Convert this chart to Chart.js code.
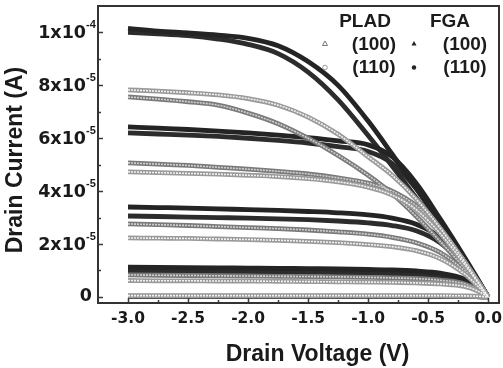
<!DOCTYPE html>
<html>
<head>
<meta charset="utf-8">
<script src="https://cdn.jsdelivr.net/npm/chart.js@4.4.1/dist/chart.umd.min.js"></script>
<style>
  html, body { margin: 0; padding: 0; background: #fff; }
  #wrap { width: 503px; height: 368px; }
</style>
</head>
<body>
<div id="wrap"><canvas id="ivChart" width="503" height="368"></canvas></div>
<script>
// Drain voltage (V), shared by every curve
const drainVoltage = [-3.0, -2.75, -2.5, -2.25, -2.0, -1.75, -1.5, -1.25, -1.0, -0.8, -0.6, -0.4, -0.2, -0.1, 0.0];

// Drain current in units of 1e-5 A, one row per gate step (highest first)
const plad100 = [
    [7.56, 7.48, 7.38, 7.25, 6.95, 6.55, 6.0, 5.35, 4.6, 3.9, 3.05, 2.1, 1.1, 0.55, 0],
    [5.07, 5.02, 4.97, 4.9, 4.83, 4.75, 4.65, 4.5, 4.3, 4.0, 3.45, 2.55, 1.35, 0.68, 0],
    [2.76, 2.73, 2.7, 2.66, 2.62, 2.58, 2.53, 2.46, 2.37, 2.25, 2.05, 1.68, 1.0, 0.53, 0],
    [0.83, 0.82, 0.81, 0.8, 0.79, 0.78, 0.77, 0.76, 0.74, 0.72, 0.69, 0.63, 0.5, 0.3, 0],
    [0.03, 0.03, 0.03, 0.03, 0.03, 0.03, 0.03, 0.03, 0.03, 0.03, 0.03, 0.03, 0.02, 0.01, 0]
];
const plad110 = [
    [7.83, 7.78, 7.72, 7.64, 7.5, 7.25, 6.8, 6.15, 5.3, 4.6, 3.7, 2.6, 1.35, 0.68, 0],
    [4.73, 4.7, 4.67, 4.64, 4.6, 4.55, 4.47, 4.35, 4.15, 3.85, 3.3, 2.4, 1.25, 0.63, 0],
    [2.23, 2.22, 2.21, 2.19, 2.17, 2.14, 2.1, 2.05, 1.98, 1.9, 1.75, 1.45, 0.88, 0.47, 0],
    [0.62, 0.61, 0.61, 0.6, 0.6, 0.59, 0.58, 0.57, 0.56, 0.55, 0.53, 0.49, 0.4, 0.25, 0],
    [0.05, 0.05, 0.05, 0.05, 0.05, 0.05, 0.05, 0.05, 0.05, 0.05, 0.05, 0.05, 0.04, 0.03, 0]
];
const fga100 = [
    [10.15, 10.05, 9.98, 9.9, 9.78, 9.5, 8.9, 8.0, 6.65, 5.4, 4.1, 2.8, 1.42, 0.71, 0],
    [6.43, 6.38, 6.33, 6.27, 6.2, 6.12, 6.02, 5.9, 5.75, 5.3, 4.3, 2.95, 1.52, 0.77, 0],
    [3.4, 3.38, 3.36, 3.33, 3.3, 3.27, 3.23, 3.18, 3.1, 2.98, 2.75, 2.25, 1.3, 0.68, 0],
    [1.13, 1.12, 1.11, 1.1, 1.09, 1.08, 1.07, 1.06, 1.04, 1.02, 0.98, 0.9, 0.68, 0.4, 0],
    [0.02, 0.02, 0.02, 0.02, 0.02, 0.02, 0.02, 0.02, 0.02, 0.02, 0.02, 0.02, 0.02, 0.01, 0]
];
const fga110 = [
    [10.0, 9.95, 9.88, 9.75, 9.55, 9.2, 8.5, 7.45, 6.1, 4.95, 3.75, 2.55, 1.3, 0.65, 0],
    [6.2, 6.16, 6.12, 6.07, 6.0, 5.92, 5.82, 5.68, 5.5, 5.05, 4.1, 2.82, 1.46, 0.74, 0],
    [3.06, 3.04, 3.02, 3.0, 2.98, 2.95, 2.92, 2.87, 2.8, 2.7, 2.5, 2.05, 1.2, 0.63, 0],
    [0.98, 0.97, 0.96, 0.96, 0.95, 0.94, 0.93, 0.92, 0.9, 0.88, 0.85, 0.78, 0.6, 0.36, 0],
    [0.02, 0.02, 0.02, 0.02, 0.02, 0.02, 0.02, 0.02, 0.02, 0.02, 0.02, 0.02, 0.02, 0.01, 0]
];

// Tick labels
const yTickValues = [0, 2, 4, 6, 8, 10];
const yTickBase = ['0', '2x10', '4x10', '6x10', '8x10', '1x10'];
const yTickExp = ['', '-5', '-5', '-5', '-5', '-4'];
const xTickValues = [-3.0, -2.5, -2.0, -1.5, -1.0, -0.5, 0.0];
const xTickLabels = ['-3.0', '-2.5', '-2.0', '-1.5', '-1.0', '-0.5', '0.0'];

const titleFont = "'Liberation Sans', Arial, sans-serif";
const tickFont = "'DejaVu Sans', sans-serif";

// Build the line datasets: open markers = grey band with speckled pale core, filled = dark band
const datasets = [];
function addCurves(rows, style, order) {
    rows.forEach(function(row) {
        const pts = row.map(function(v, i) { return { x: drainVoltage[i], y: v }; });
        datasets.push({
            data: pts,
            borderColor: style.outer,
            borderWidth: style.width,
            pointRadius: 0,
            cubicInterpolationMode: 'monotone',
            order: order + 1
        });
        if (style.inner) {
            datasets.push({
                data: pts,
                borderColor: style.inner,
                borderWidth: 1.6,
                borderDash: [2, 1],
                pointRadius: 0,
                cubicInterpolationMode: 'monotone',
                order: order
            });
        }
    });
}
addCurves(plad110, { outer: '#9a9a9a', inner: '#f2f2f2', width: 4.8 }, 0);
addCurves(plad100, { outer: '#7a7a7a', inner: '#d0d0d0', width: 4.8 }, 2);
addCurves(fga100, { outer: '#242424', width: 4.8 }, 4);
addCurves(fga110, { outer: '#2c2c2c', width: 4.8 }, 6);

// Frame, inward tick marks, tick labels and axis titles
const axesDecor = {
    id: 'axesDecor',
    afterDatasetsDraw(chart) {
        const { ctx, chartArea: a, scales: { x, y } } = chart;
        ctx.save();
        ctx.strokeStyle = '#3a3a3a';
        ctx.lineWidth = 1.5;
        ctx.beginPath();
        for (let k = 0; k <= 12; k++) {
            const v = -3.0 + k * 0.25;
            const px = Math.round(x.getPixelForValue(v)) + 0.5;
            const len = k % 2 === 0 ? 5 : 3;
            ctx.moveTo(px, a.bottom);
            ctx.lineTo(px, a.bottom - len);
        }
        for (let v = 0; v <= 10; v++) {
            const py = Math.round(y.getPixelForValue(v)) + 0.5;
            const len = v % 2 === 0 ? 5 : 3;
            ctx.moveTo(a.left, py);
            ctx.lineTo(a.left + len, py);
        }
        ctx.stroke();
        ctx.lineWidth = 2;
        ctx.strokeStyle = '#333';
        ctx.strokeRect(a.left, a.top, a.right - a.left, a.bottom - a.top);

        ctx.fillStyle = '#1a1a1a';
        ctx.textBaseline = 'middle';
        ctx.textAlign = 'center';
        ctx.font = 'bold 15.5px ' + tickFont;
        xTickValues.forEach(function(v, i) {
            ctx.fillText(xTickLabels[i], x.getPixelForValue(v), a.bottom + 16);
        });

        yTickValues.forEach(function(v, i) {
            const py = y.getPixelForValue(v);
            ctx.textAlign = 'right';
            ctx.font = 'bold 17.5px ' + tickFont;
            if (!yTickExp[i]) {
                ctx.fillText(yTickBase[i], a.left - 6, py);
                return;
            }
            ctx.fillText(yTickBase[i], a.left - 12, py + 1);
            ctx.textAlign = 'left';
            ctx.font = 'bold 11px ' + titleFont;
            ctx.fillText(yTickExp[i], a.left - 12, py - 7);
        });

        ctx.textAlign = 'center';
        ctx.font = 'bold 23px ' + titleFont;
        ctx.fillText('Drain Voltage (V)', (a.left + a.right) / 2 + 19, 355);
        ctx.translate(16, 160);
        ctx.rotate(-Math.PI / 2);
        ctx.fillText('Drain Current (A)', 0, 0);
        ctx.restore();
    }
};

// Legend drawn inside the plot, top right
const markerLegend = {
    id: 'markerLegend',
    afterDraw(chart) {
        const ctx = chart.ctx;
        const r = chart.chartArea.right;
        ctx.save();
        ctx.fillStyle = '#1c1c1c';
        ctx.font = 'bold 19px ' + titleFont;
        ctx.textAlign = 'center';
        ctx.textBaseline = 'middle';
        ctx.fillText('PLAD', r - 134, 22);
        ctx.fillText('FGA', r - 49, 22);
        ctx.fillText('(100)', r - 125, 45);
        ctx.fillText('(110)', r - 125, 68);
        ctx.fillText('(100)', r - 34, 45);
        ctx.fillText('(110)', r - 34, 68);

        // open triangle / open circle (PLAD), filled (FGA)
        ctx.lineWidth = 1;
        ctx.strokeStyle = '#777';
        ctx.beginPath();
        ctx.moveTo(r - 174, 41); ctx.lineTo(r - 171.5, 45.5); ctx.lineTo(r - 176.5, 45.5); ctx.closePath();
        ctx.stroke();
        ctx.strokeStyle = '#999';
        ctx.beginPath();
        ctx.arc(r - 174, 67.5, 2.3, 0, Math.PI * 2);
        ctx.stroke();
        ctx.fillStyle = '#222';
        ctx.beginPath();
        ctx.moveTo(r - 85, 41); ctx.lineTo(r - 82.5, 45.5); ctx.lineTo(r - 87.5, 45.5); ctx.closePath();
        ctx.fill();
        ctx.beginPath();
        ctx.arc(r - 85, 67.5, 2.2, 0, Math.PI * 2);
        ctx.fill();
        ctx.restore();
    }
};

new Chart(document.getElementById('ivChart'), {
    type: 'line',
    data: { datasets: datasets },
    options: {
        responsive: false,
        animation: false,
        devicePixelRatio: 1,
        layout: { padding: { top: 6, right: 4, left: 0, bottom: 0 } },
        plugins: { legend: { display: false }, tooltip: { enabled: false } },
        scales: {
            x: {
                type: 'linear',
                min: -3.25,
                max: 0.09,
                grid: { display: false },
                border: { display: false },
                ticks: { display: false },
                afterFit: function(scale) { scale.height = 65; }
            },
            y: {
                type: 'linear',
                min: -0.23,
                max: 11.0,
                grid: { display: false },
                border: { display: false },
                ticks: { display: false },
                afterFit: function(scale) { scale.width = 98; }
            }
        }
    },
    plugins: [axesDecor, markerLegend]
});
</script>
</body>
</html>
